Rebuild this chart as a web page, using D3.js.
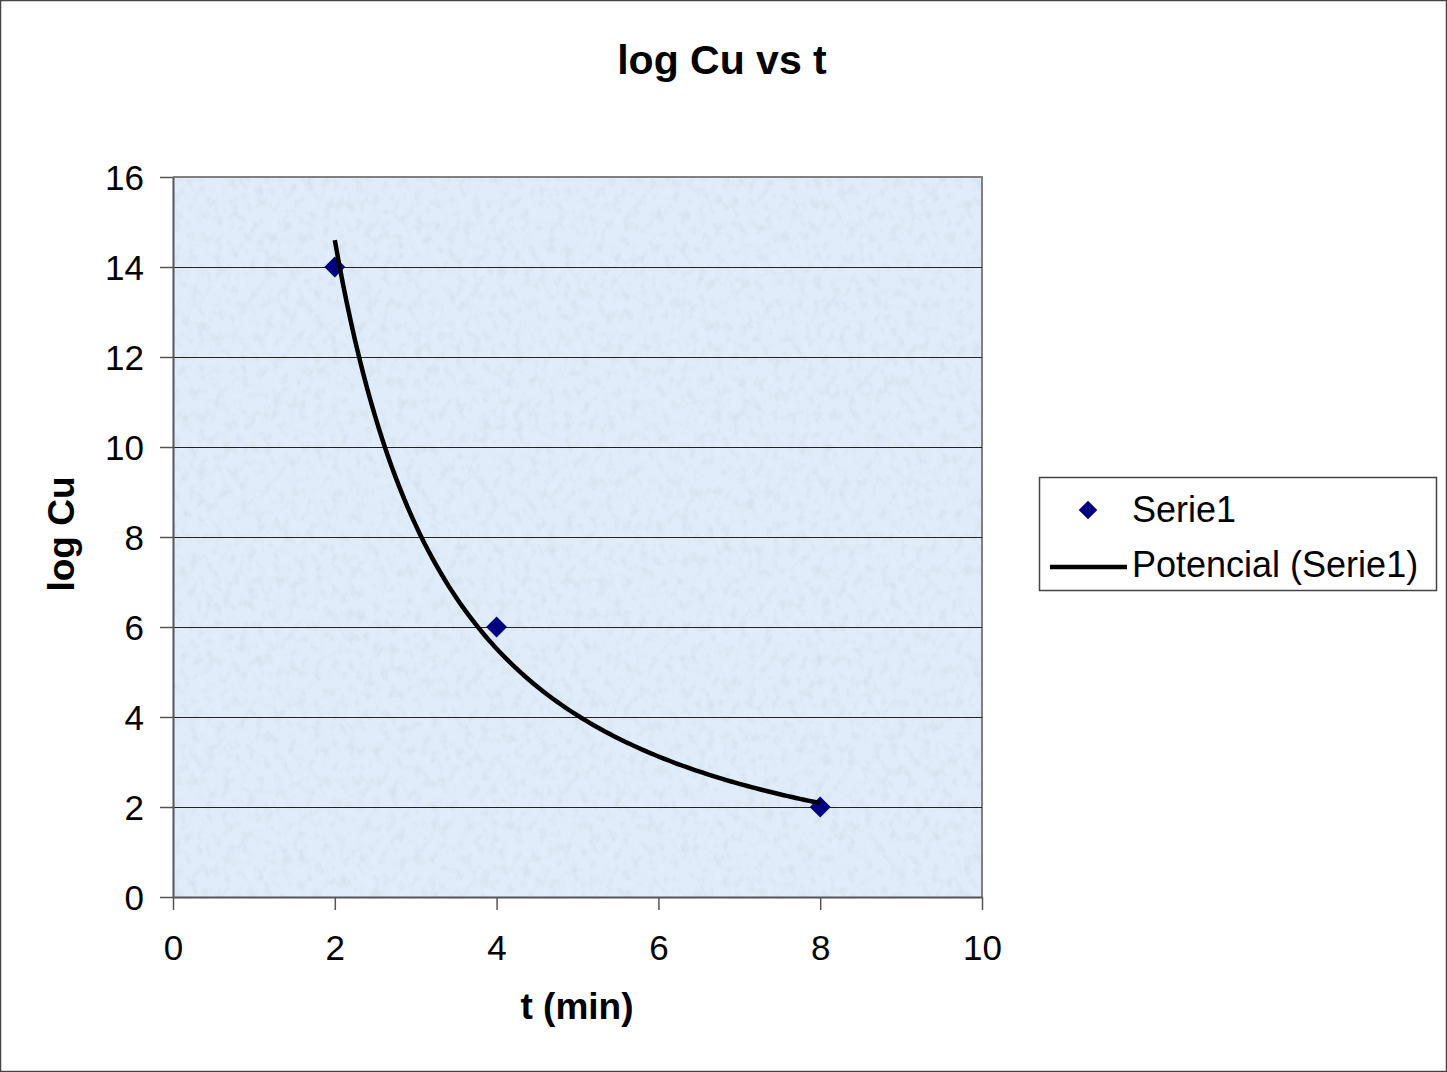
<!DOCTYPE html>
<html>
<head>
<meta charset="utf-8">
<script src="https://cdn.jsdelivr.net/npm/d3@7"></script>
<style>
  body { margin: 0; background: #fff; }
  svg { display: block; font-family: "Liberation Sans", Arial, sans-serif; }
</style>
</head>
<body>
<div id="chart"></div>
<script>
// data
const tValues = [2, 4, 8];
const logCu = [14, 6, 2];
const xTicks = [0, 2, 4, 6, 8, 10];
const yTicks = [0, 2, 4, 6, 8, 10, 12, 14, 16];
const legendLabels = ["Serie1", "Potencial (Serie1)"];

const W = 1447, H = 1072;
const margin = { top: 177, right: 465, bottom: 175, left: 173 };
const width = W - margin.left - margin.right;
const height = H - margin.top - margin.bottom;

const svg = d3.select("#chart").append("svg")
  .attr("width", W)
  .attr("height", H);

// noisy light-blue fill like the spreadsheet texture
const defs = svg.append("defs");
const f = defs.append("filter").attr("id", "tex")
  .attr("x", 0).attr("y", 0).attr("width", "100%").attr("height", "100%");
f.append("feTurbulence").attr("type", "fractalNoise")
  .attr("baseFrequency", "0.12 0.09").attr("numOctaves", 3).attr("seed", 7).attr("result", "n");
f.append("feColorMatrix").attr("in", "n").attr("type", "matrix")
  .attr("values", "0 0 0 0 0.66  0 0 0 0 0.73  0 0 0 0 0.82  1.8 0 0 0 -0.85")
  .attr("result", "c");
f.append("feComposite").attr("in", "c").attr("in2", "SourceGraphic").attr("operator", "atop");

// outer border
svg.append("rect")
  .attr("x", 0.5).attr("y", 0.5)
  .attr("width", W - 1).attr("height", H - 1)
  .attr("fill", "#fff").attr("stroke", "#444").attr("stroke-width", 1.5);

const g = svg.append("g").attr("transform", `translate(${margin.left},${margin.top})`);

const x = d3.scaleLinear().domain([0, 10]).range([0, width]);
const y = d3.scaleLinear().domain([0, 16]).range([height, 0]);

// plot area
g.append("rect")
  .attr("width", width).attr("height", height)
  .attr("fill", "#e0ecf9")
  .attr("filter", "url(#tex)");
g.append("path")
  .attr("d", `M0,0H${width}V${height}`)
  .attr("fill", "none").attr("stroke", "#808080").attr("stroke-width", 2);

// gridlines
g.selectAll(".grid")
  .data(yTicks.filter(d => d > 0 && d < 16))
  .enter().append("line")
  .attr("x1", 0).attr("x2", width)
  .attr("y1", d => y(d) + 0.5).attr("y2", d => y(d) + 0.5)
  .attr("stroke", "#222").attr("stroke-width", 1);

// axes
const yAxis = g.append("g")
  .call(d3.axisLeft(y).tickValues(yTicks).tickSize(13).tickPadding(16).tickSizeOuter(0));
const xAxis = g.append("g")
  .attr("transform", `translate(0,${height})`)
  .call(d3.axisBottom(x).tickValues(xTicks).tickSize(13).tickPadding(25).tickSizeOuter(0));
[xAxis, yAxis].forEach(a => {
  a.select(".domain").attr("stroke", "#555").attr("stroke-width", 2);
  a.selectAll(".tick line").attr("stroke", "#555").attr("stroke-width", 1.5);
  a.selectAll(".tick text").attr("fill", "#000").style("font-size", "35px");
});
yAxis.selectAll(".tick text").attr("dy", "0.36em");

// power trend line (least squares on ln t, ln y), drawn over the data range
const lx = tValues.map(Math.log), ly = logCu.map(Math.log);
const mx = d3.mean(lx), my = d3.mean(ly);
const b = d3.sum(lx, (v, i) => (v - mx) * (ly[i] - my)) / d3.sum(lx, v => (v - mx) ** 2);
const a = Math.exp(my - b * mx);
const trend = d3.range(0, 121).map(i => {
  const t = tValues[0] + (tValues[tValues.length - 1] - tValues[0]) * i / 120;
  return [t, a * Math.pow(t, b)];
});

const points = tValues.map((t, i) => ({ t, v: logCu[i] }));
const diamond = d3.symbol().type(d3.symbolDiamond2).size(280);

g.selectAll(".dot")
  .data(points)
  .enter().append("path")
  .attr("class", "dot")
  .attr("transform", d => `translate(${x(d.t)},${y(d.v)})`)
  .attr("d", diamond)
  .attr("fill", "#000080");

g.append("path")
  .datum(trend)
  .attr("fill", "none")
  .attr("stroke", "#000")
  .attr("stroke-width", 4.5)
  .attr("d", d3.line().x(d => x(d[0])).y(d => y(d[1])));

// titles
svg.append("text")
  .attr("x", 722).attr("y", 74)
  .attr("text-anchor", "middle")
  .style("font-size", "41px").style("font-weight", "bold")
  .text("log Cu vs t");
svg.append("text")
  .attr("x", 577).attr("y", 1019)
  .attr("text-anchor", "middle")
  .style("font-size", "37px").style("font-weight", "bold")
  .text("t (min)");
svg.append("text")
  .attr("transform", "translate(74,534) rotate(-90)")
  .attr("text-anchor", "middle")
  .style("font-size", "37px").style("font-weight", "bold")
  .text("log Cu");

// legend
const leg = svg.append("g").attr("transform", "translate(1039,477)");
leg.append("rect")
  .attr("x", 0.5).attr("y", 0.5).attr("width", 397).attr("height", 113)
  .attr("fill", "#fff").attr("stroke", "#444").attr("stroke-width", 1.5);
leg.append("path")
  .attr("transform", "translate(49,33)")
  .attr("d", d3.symbol().type(d3.symbolDiamond2).size(220))
  .attr("fill", "#000080");
leg.append("line")
  .attr("x1", 11).attr("x2", 88).attr("y1", 90).attr("y2", 90)
  .attr("stroke", "#000").attr("stroke-width", 4.5);
leg.selectAll(".lt")
  .data(legendLabels)
  .enter().append("text")
  .attr("x", 93)
  .attr("y", (d, i) => 45 + i * 55)
  .style("font-size", "36px")
  .text(d => d);
</script>
</body>
</html>
